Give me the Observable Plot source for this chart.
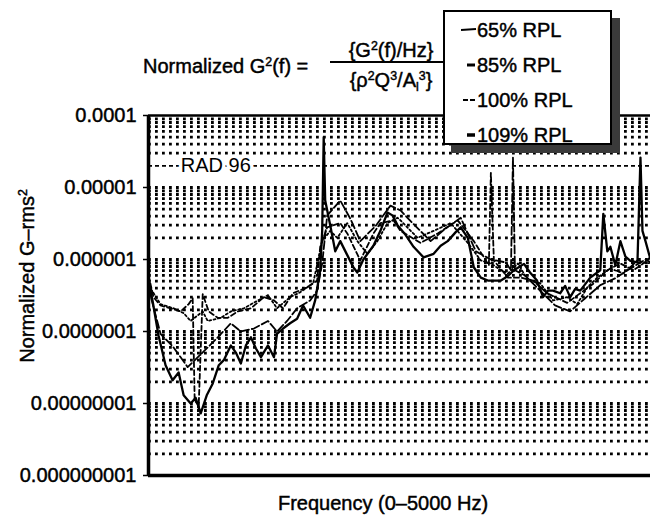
<!DOCTYPE html>
<html><head><meta charset="utf-8">
<script src="https://cdn.jsdelivr.net/npm/d3@7"></script>
<script src="https://cdn.jsdelivr.net/npm/@observablehq/plot@0.6"></script>
<style>
html,body{margin:0;padding:0;background:#fff;}
#wrap{position:relative;width:650px;height:518px;overflow:hidden;font-family:"Liberation Sans",Arial,sans-serif;color:#000;}
#chart{position:absolute;left:0;top:0;}
.t{position:absolute;font-size:20px;line-height:20px;white-space:nowrap;z-index:2;-webkit-text-stroke:0.45px #000;}
sup{font-size:0.62em;vertical-align:0;position:relative;top:-0.55em;}
sub{font-size:0.62em;vertical-align:0;position:relative;top:0.3em;}
#ylab{position:absolute;left:28px;top:276px;transform:translate(-50%,-50%) rotate(-90deg);font-size:20px;line-height:20px;white-space:nowrap;-webkit-text-stroke:0.45px #000;z-index:2;}
#xlab{position:absolute;left:383px;top:503px;transform:translate(-50%,-50%);font-size:20px;line-height:20px;white-space:nowrap;-webkit-text-stroke:0.45px #000;z-index:2;}
#legend{position:absolute;left:443px;top:10px;width:169px;height:135px;border:2px solid #000;background:#fff;box-sizing:border-box;box-shadow:8px 8px 0 #3a3a3a;z-index:3;}
.row{position:absolute;left:16px;font-size:20px;line-height:20px;white-space:nowrap;display:flex;align-items:center;-webkit-text-stroke:0.45px #000;}
</style>
</head><body>
<div id="wrap">
  <div id="chart"></div>
  <div class="t" style="left:143px;top:56px;">Normalized G<sup>2</sup>(f) =</div>
  <div class="t" style="left:334px;width:114px;text-align:center;top:40px;">{G<sup>2</sup>(f)/Hz}</div>
  <div class="t" style="left:330px;width:122px;top:61px;height:2px;background:#000;"></div>
  <div class="t" style="left:334px;width:114px;text-align:center;top:70px;">{ρ<sup>2</sup>Q<sup>3</sup>/A<sub>l</sub><sup>3</sup>}</div>
  <div id="ylab">Normalized G–rms<sup>2</sup></div>
  <div id="xlab">Frequency (0–5000 Hz)</div>
  <div id="legend"></div>
</div>
<script>
// ---- data (frequency in Hz, normalized G-rms^2) ----
const decades = [1e-9, 1e-8, 1e-7, 1e-6, 1e-5, 1e-4];
const minorMultipliers = [2, 3, 4, 5, 6, 7, 8, 9];
const seriesNames = ["65% RPL", "85% RPL", "100% RPL", "109% RPL"];

const f65 = [0,40,100,170,240,300,350,420,470,520,580,640,700,750,820,870,920,970,1020,1070,1120,1190,1250,1280,1340,1410,1480,1540,1610,1660,1710,1730,1745,1760,1810,1860,1910,1980,2040,2080,2140,2240,2310,2380,2430,2480,2560,2640,2740,2840,2910,2980,3060,3110,3180,3240,3310,3380,3510,3580,3640,3740,3800,3870,3930,3980,4030,4100,4150,4200,4250,4300,4400,4500,4530,4570,4600,4650,4700,4750,4800,4870,4900,4920,4950,5000];
const v65 = [5.1e-7,2.7e-7,8.8e-8,3.4e-8,2.1e-8,2.7e-8,1.3e-8,1.0e-8,1.2e-8,7.3e-9,1.3e-8,1.9e-8,3.4e-8,4.0e-8,6.4e-8,5.1e-8,3.6e-8,6.4e-8,8.3e-8,5.8e-8,4.4e-8,6.4e-8,4.4e-8,9.3e-8,1.1e-7,1.3e-7,1.5e-7,2.3e-7,1.55e-7,2.7e-7,7.1e-7,2.5e-6,5e-5,6.6e-6,3e-6,1.3e-6,1.8e-6,1.15e-6,7.8e-7,6.6e-7,1.0e-6,1.55e-6,2.5e-6,4.5e-6,4.1e-6,3e-6,2.2e-6,1.5e-6,1.07e-6,1.2e-6,1.55e-6,1.8e-6,2.4e-6,2.8e-6,2.0e-6,7.8e-7,5.6e-7,5.1e-7,5.1e-7,5.9e-7,7.1e-7,8.7e-7,6.6e-7,5.1e-7,3.0e-7,3.7e-7,3.7e-7,3.4e-7,4.3e-7,3.0e-7,3.9e-7,3.7e-7,5.6e-7,7.1e-7,4.3e-6,1.3e-6,1.5e-6,8.3e-7,1.8e-6,1.1e-6,9.6e-7,9.1e-7,2.6e-5,2.5e-6,1.8e-6,1.0e-6];

const f85 = [0,50,120,220,320,400,440,460,500,540,600,690,790,890,1020,1150,1250,1340,1440,1580,1680,1710,1780,1910,1980,2110,2240,2310,2440,2510,2710,2880,3080,3240,3390,3410,3440,3580,3710,3830,3970,4170,4300,4430,4570,4700,4830,4970,5000];
const v85 = [6.0e-7,3.0e-7,2.3e-7,2.1e-7,1.9e-7,2.4e-7,2.9e-7,1.1e-8,9.3e-9,3.3e-7,1.9e-7,1.55e-7,1.55e-7,1.9e-7,2.1e-7,3.0e-7,2.7e-7,2.1e-7,3.4e-7,4.1e-7,5.1e-7,1.5e-6,2.8e-6,3.2e-6,2.3e-6,9.7e-7,2.3e-6,3.2e-6,3.5e-6,2.5e-6,1.7e-6,2.3e-6,3.5e-6,1.8e-6,8.3e-7,1.6e-5,9.7e-7,5.6e-7,5.6e-7,5.1e-7,3.4e-7,2.5e-7,3.4e-7,4.6e-7,7.1e-7,8.8e-7,7.1e-7,9.7e-7,1.1e-6];

const f100 = [0,120,250,350,420,540,590,720,820,950,1090,1190,1280,1410,1510,1640,1730,1810,1880,1980,2080,2180,2280,2380,2480,2510,2680,2840,3010,3180,3310,3410,3510,3580,3680,3780,3900,4030,4170,4270,4370,4470,4600,4730,4870,4970,5000];
const v100 = [4.4e-7,2.4e-7,2.1e-7,1.8e-7,1.4e-7,1.9e-7,1.4e-7,1.55e-7,1.9e-7,2.1e-7,2.7e-7,3.2e-7,2.1e-7,3.0e-7,3.5e-7,4.7e-7,1.8e-6,2.5e-6,2.0e-6,3.2e-6,1.8e-6,1.2e-6,1.8e-6,3.2e-6,3.8e-6,3.5e-6,2.0e-6,2.5e-6,3.2e-6,1.7e-6,9.7e-7,8.8e-7,7.1e-7,6.4e-7,8.8e-7,5.1e-7,4.7e-7,2.7e-7,3.0e-7,2.4e-7,4.1e-7,5.6e-7,7.5e-7,6.4e-7,9.7e-7,8.8e-7,9.0e-7];

const f109 = [0,120,250,390,590,690,820,920,1050,1190,1280,1380,1480,1610,1680,1730,1780,1910,2010,2110,2260,2410,2510,2660,2810,2960,3110,3260,3410,3560,3610,3630,3650,3750,3900,4050,4200,4350,4500,4650,4800,4950,5000];
const v109 = [4.0e-7,9.3e-8,6.0e-8,3.2e-8,6.0e-8,8.3e-8,1.3e-7,1.0e-7,1.1e-7,1.4e-7,1.0e-7,1.4e-7,2.1e-7,2.7e-7,3.7e-7,8.8e-7,4.1e-6,6.6e-6,3.7e-6,1.8e-6,2.9e-6,5.6e-6,4.8e-6,2.9e-6,1.8e-6,2.7e-6,3.8e-6,1.3e-6,1.0e-6,9.1e-7,7.1e-7,2.6e-5,7.1e-7,6.0e-7,3.7e-7,2.3e-7,1.9e-7,2.9e-7,4.4e-7,5.5e-7,7.5e-7,1.0e-6,9.1e-7];

const radLabel = "RAD 96";
const radLevel = 2e-5;
const radFreq = 670;

// ---- build tables ----
const toRows = (fs, vs) => fs.map((f, i) => ({f, v: vs[i]}));
const d65 = toRows(f65, v65), d85 = toRows(f85, v85), d100 = toRows(f100, v100), d109 = toRows(f109, v109);
const grid = [];
decades.slice(0, -1).forEach(d => minorMultipliers.forEach(m => { if (!(d === 1e-5 && m === 2)) grid.push(d * m); }));
decades.slice(1, -1).forEach(d => grid.push(d));

const styles = {
  "65% RPL": {dash: null, width: 2.3},
  "85% RPL": {dash: "5,3", width: 1.8},
  "100% RPL": {dash: "2,2.5", width: 1.8},
  "109% RPL": {dash: "8,3", width: 1.8}
};
const font = "Liberation Sans, Arial, sans-serif";

const chart = Plot.plot({
  width: 650, height: 518,
  marginLeft: 148, marginRight: 0, marginTop: 115, marginBottom: 43,
  style: {fontFamily: font, fontSize: "20px", color: "#000", background: "#fff", overflow: "visible"},
  x: {domain: [0, 5000], axis: null},
  y: {type: "log", domain: [1e-9, 1e-4], axis: null},
  marks: [
    Plot.ruleY(grid, {stroke: "#000", strokeWidth: 2.8, strokeDasharray: "2.8,4.2"}),
    Plot.ruleY([radLevel], {stroke: "#000", strokeWidth: 1.8, strokeDasharray: "4,3"}),
    Plot.text([radLabel], {x: () => radFreq, y: () => radLevel, fontSize: 20, fill: "#000", stroke: "#fff", strokeWidth: 7}),
    Plot.line(d109, {x: "f", y: "v", stroke: "#000", strokeWidth: styles["109% RPL"].width, strokeDasharray: styles["109% RPL"].dash, clip: true}),
    Plot.line(d100, {x: "f", y: "v", stroke: "#000", strokeWidth: styles["100% RPL"].width, strokeDasharray: styles["100% RPL"].dash, clip: true}),
    Plot.line(d85, {x: "f", y: "v", stroke: "#000", strokeWidth: styles["85% RPL"].width, strokeDasharray: styles["85% RPL"].dash, clip: true}),
    Plot.line(d65, {x: "f", y: "v", stroke: "#000", strokeWidth: styles["65% RPL"].width, clip: true}),
    Plot.ruleY([1e-4], {stroke: "#000", strokeWidth: 2.5}),
    Plot.ruleY([1e-9], {stroke: "#000", strokeWidth: 3.5}),
    Plot.ruleX([0], {stroke: "#000", strokeWidth: 3.5}),
    Plot.axisY({ticks: decades, tickFormat: d => d.toFixed(Math.round(-Math.log10(d))), tickSize: 5, tickPadding: 7, label: null, fontSize: 20, strokeWidth: 1.5, textStroke: "#000", textStrokeWidth: 0.45})
  ]
});
document.getElementById("chart").appendChild(chart);

// ---- legend ----
const legend = document.getElementById("legend");
const glyphs = {
  "65% RPL": '<line x1="0" y1="6" x2="15" y2="5" stroke="#000" stroke-width="2"/>',
  "85% RPL": '<line x1="6" y1="6" x2="14" y2="6" stroke="#000" stroke-width="3"/>',
  "100% RPL": '<line x1="2" y1="6" x2="15" y2="6" stroke="#000" stroke-width="2.2" stroke-dasharray="5,2"/>',
  "109% RPL": '<line x1="6" y1="6" x2="14" y2="6" stroke="#000" stroke-width="3.5"/>'
};
seriesNames.forEach((name, i) => {
  const row = document.createElement("div");
  row.className = "row";
  row.style.top = (8 + i * 35) + "px";
  row.innerHTML = '<svg width="16" height="12">' + glyphs[name] + '</svg><span>' + name + '</span>';
  legend.appendChild(row);
});
</script>
</body></html>
